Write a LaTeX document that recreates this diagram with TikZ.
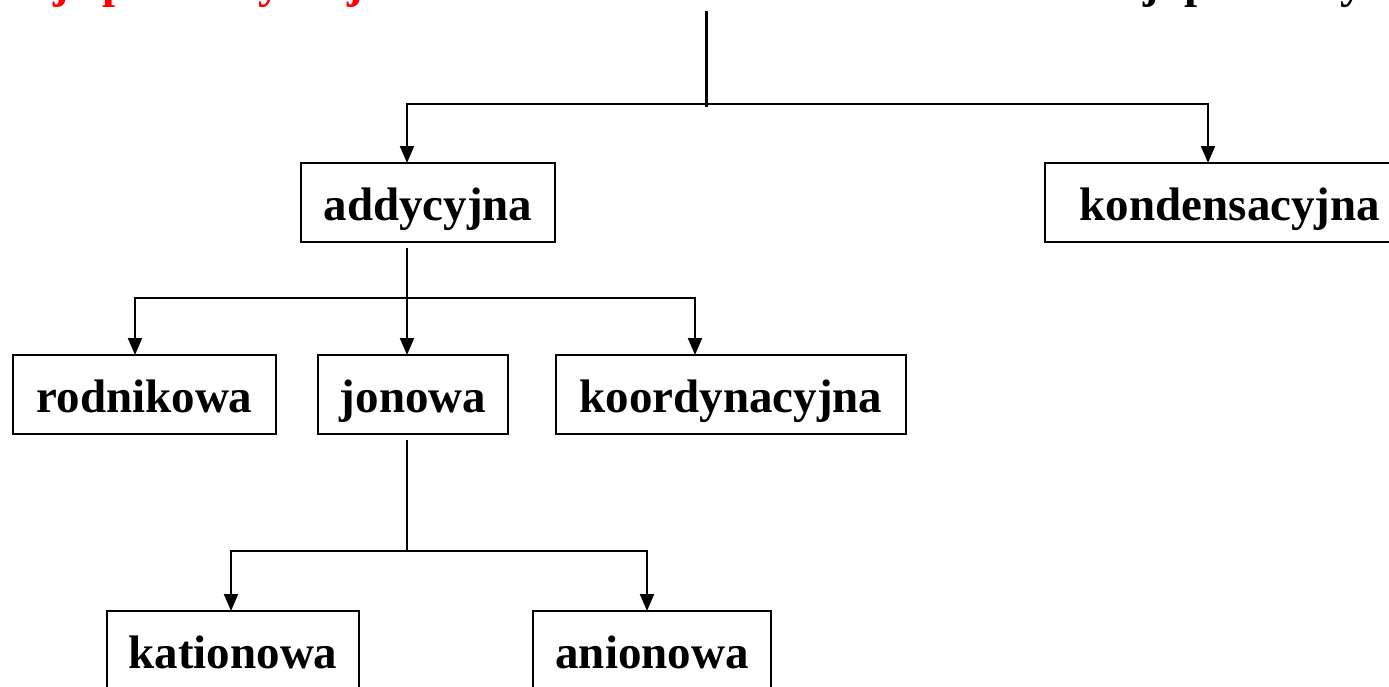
\documentclass[tikz,border=0pt]{standalone}
\usepackage{fontspec}
\setmainfont{Liberation Serif}
\usetikzlibrary{arrows.meta}
\begin{document}
\begin{tikzpicture}[x=1pt,y=-1pt,
  bigfont/.style={font=\fontsize{47}{56}\selectfont\bfseries},
  typebox/.style={draw, line width=2.2pt, inner sep=0pt, outer sep=0pt,
    anchor=north west, minimum height=79pt, text height=57pt,
    text depth=22pt, bigfont},
  link/.style={line width=2pt},
  arr/.style={link, -{Triangle[length=17pt,width=14pt]}},
  heading/.style={anchor=base west, inner sep=0pt, bigfont}]
\useasboundingbox (0,0) rectangle (1389,686);
\clip (0,0) rectangle (1389,686);

% heading line, running above the page edge
\node[heading, text=red] (title) at (-71.6,-3) {Reakcje polimeryzacji};
\node[heading] (subtitle) at (1032,-3) {reakcji polimeryzacji};

% classification boxes
\node[typebox, minimum width=254pt] (add)  at (301,163)  {addycyjna};
\node[typebox, minimum width=370pt] (kond) at (1045,163) {kondensacyjna};
\node[typebox, minimum width=263pt] (rod)  at (13,355)   {rodnikowa};
\node[typebox, minimum width=190pt] (jon)  at (318,355)  {jonowa};
\node[typebox, minimum width=350pt] (koor) at (556,355)  {koordynacyjna};
\node[typebox, minimum width=252pt] (kat)  at (107,611)  {kationowa};
\node[typebox, minimum width=238pt] (anio) at (533,611)  {anionowa};

% branching points
\coordinate (root) at (706,11);
\coordinate (hub1) at (706,104);
\coordinate (hub2) at (407,298);
\coordinate (hub3) at (407,551);

% top level
\draw[line width=3pt] (root) -- ([yshift=-3pt]hub1);
\draw[arr] (hub1) -| ([xshift=-21pt]add.north);
\draw[arr] (hub1) -| ([xshift=-22pt]kond.north);

% addition polymerisation
\draw[link] ([xshift=-21pt,yshift=-6pt]add.south) -- (hub2);
\draw[arr] (hub2) -| ([xshift=-9.5pt]rod.north);
\draw[arr] (hub2) -- ([xshift=-6pt]jon.north);
\draw[arr] (hub2) -| ([xshift=-36pt]koor.north);

% ionic polymerisation
\draw[link] ([xshift=-6pt,yshift=-6pt]jon.south) -- (hub3);
\draw[arr] (hub3) -| ([xshift=-2pt]kat.north);
\draw[arr] (hub3) -| ([xshift=-5pt]anio.north);
\end{tikzpicture}
\end{document}
